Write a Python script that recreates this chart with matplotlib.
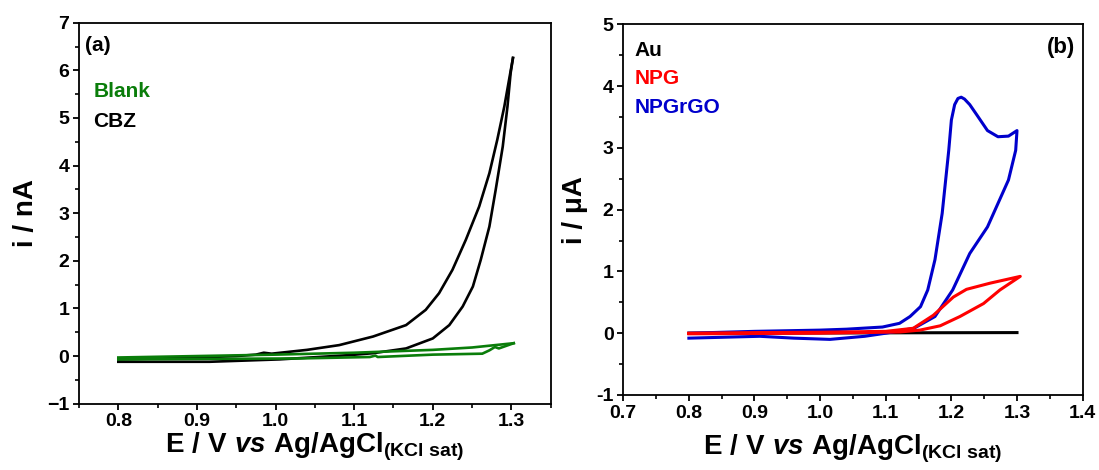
import matplotlib
matplotlib.use("Agg")
import matplotlib.pyplot as plt
from matplotlib.ticker import MultipleLocator, FuncFormatter

# panel (a): CBZ vs blank, current in nA
cbz_fwd_e = [0.80, 0.85, 0.90, 0.95, 0.975, 0.985, 0.995, 1.04, 1.081, 1.124, 1.166, 1.191,
             1.208, 1.225, 1.242, 1.259, 1.272, 1.282, 1.291, 1.297, 1.302]
cbz_fwd_i = [-0.07, -0.05, -0.03, 0.0, 0.03, 0.07, 0.05, 0.13, 0.23, 0.41, 0.65, 0.97,
             1.32, 1.81, 2.44, 3.14, 3.84, 4.54, 5.24, 5.80, 6.26]
cbz_rev_e = [1.302, 1.299, 1.295, 1.289, 1.280, 1.272, 1.261, 1.251, 1.238, 1.221, 1.200,
             1.166, 1.124, 1.094, 1.005, 0.916, 0.80]
cbz_rev_i = [6.26, 5.94, 5.24, 4.40, 3.49, 2.72, 2.02, 1.46, 1.04, 0.65, 0.37,
             0.16, 0.06, 0.02, -0.07, -0.12, -0.12]

blank_fwd_e = [0.80, 0.90, 1.00, 1.10, 1.20, 1.25, 1.303]
blank_fwd_i = [-0.03, 0.0, 0.03, 0.07, 0.13, 0.18, 0.27]
blank_rev_e = [1.303, 1.284, 1.279, 1.272, 1.263, 1.20, 1.13, 1.127, 1.12, 1.03, 0.90, 0.80]
blank_rev_i = [0.27, 0.16, 0.19, 0.12, 0.05, 0.03, -0.02, 0.01, -0.02, -0.05, -0.06, -0.07]

# panel (b): electrodes, current in uA
au_e = [0.80, 1.30]
au_i = [0.0, 0.01]

npg_e = [0.80, 0.90, 1.00, 1.10, 1.142, 1.1725, 1.203, 1.223, 1.259, 1.305,
         1.274, 1.249, 1.213, 1.183, 1.152, 1.122, 1.00, 0.80]
npg_i = [0.0, 0.01, 0.015, 0.03, 0.08, 0.29, 0.585, 0.71, 0.81, 0.92,
         0.70, 0.48, 0.27, 0.12, 0.05, 0.02, 0.0, -0.01]

rgo_e = [0.80, 0.90, 1.00, 1.04, 1.095, 1.121, 1.137, 1.153, 1.164, 1.175, 1.186, 1.196,
         1.200, 1.205, 1.210, 1.215, 1.220, 1.228, 1.239, 1.255, 1.271, 1.287, 1.300,
         1.298, 1.287, 1.271, 1.255, 1.228, 1.202, 1.175, 1.143, 1.10, 1.068, 1.015,
         0.96, 0.908, 0.80]
rgo_i = [0.0, 0.03, 0.05, 0.065, 0.10, 0.16, 0.27, 0.43, 0.70, 1.19, 1.94, 2.96,
         3.45, 3.70, 3.80, 3.82, 3.79, 3.70, 3.53, 3.28, 3.18, 3.19, 3.28,
         2.96, 2.48, 2.10, 1.72, 1.29, 0.70, 0.27, 0.08, 0.0, -0.05, -0.10,
         -0.08, -0.05, -0.08]

plt.rcParams["font.family"] = ["Liberation Sans", "DejaVu Sans"]
plt.rcParams["font.weight"] = "bold"
plt.rcParams["mathtext.fontset"] = "custom"
plt.rcParams["mathtext.rm"] = "Liberation Sans:bold"
plt.rcParams["mathtext.it"] = "Liberation Sans:italic:bold"
plt.rcParams["mathtext.bf"] = "Liberation Sans:bold"

GREEN = "#0a7d0a"
RED = "#ff0000"
BLUE = "#0000cc"

XLABEL = r"$\mathrm{E\ /\ V\ }\mathit{vs}\mathrm{\ Ag/AgCl_{(KCl\ sat)}}$"

fig = plt.figure(figsize=(10.99, 4.70), dpi=100)
ax_a = fig.add_axes([0.0719, 0.1411, 0.4292, 0.8106])
ax_b = fig.add_axes([0.5671, 0.1596, 0.4180, 0.7887])


def style_axis(ax):
    for sp in ax.spines.values():
        sp.set_linewidth(1.3)
    ax.tick_params(which="major", direction="out", length=4, width=1.3,
                   labelsize=14, pad=3, top=False, right=False)
    ax.tick_params(which="minor", direction="out", length=3, width=1.2,
                   top=False, right=False)
    for lab in ax.get_xticklabels() + ax.get_yticklabels():
        lab.set_fontweight("bold")


# (a)
ax_a.plot(cbz_fwd_e, cbz_fwd_i, color="black", lw=1.9, solid_joinstyle="round")
ax_a.plot(cbz_rev_e, cbz_rev_i, color="black", lw=1.9, solid_joinstyle="round")
ax_a.plot(blank_fwd_e, blank_fwd_i, color=GREEN, lw=1.9, solid_joinstyle="round")
ax_a.plot(blank_rev_e, blank_rev_i, color=GREEN, lw=1.9, solid_joinstyle="round")
ax_a.set_xlim(0.75, 1.35)
ax_a.set_ylim(-1, 7)
ax_a.xaxis.set_major_locator(MultipleLocator(0.1))
ax_a.xaxis.set_minor_locator(MultipleLocator(0.05))
ax_a.yaxis.set_major_locator(MultipleLocator(1))
ax_a.yaxis.set_minor_locator(MultipleLocator(0.5))
ax_a.xaxis.set_major_formatter(FuncFormatter(lambda v, p: f"{v:.1f}"))
ax_a.yaxis.set_major_formatter(FuncFormatter(lambda v, p: f"{v:.0f}".replace("-", "\u2212")))
style_axis(ax_a)
ax_a.set_xlabel(XLABEL, fontsize=20, labelpad=0)
ax_a.set_ylabel("i / nA", fontsize=20, fontweight="bold", labelpad=6)
ax_a.text(0.013, 0.965, "(a)", transform=ax_a.transAxes, fontsize=15,
          fontweight="bold", va="top", ha="left")
ax_a.text(0.030, 0.806, "Blank", transform=ax_a.transAxes, fontsize=15,
          fontweight="bold", color=GREEN, va="baseline")
ax_a.text(0.030, 0.727, "CBZ", transform=ax_a.transAxes, fontsize=15,
          fontweight="bold", color="black", va="baseline")

# (b)
ax_b.plot(au_e, au_i, color="black", lw=2.2)
ax_b.plot(rgo_e, rgo_i, color=BLUE, lw=2.2, solid_joinstyle="round")
ax_b.plot(npg_e, npg_i, color=RED, lw=2.2, solid_joinstyle="round")
ax_b.set_xlim(0.7, 1.4)
ax_b.set_ylim(-1, 5)
ax_b.xaxis.set_major_locator(MultipleLocator(0.1))
ax_b.xaxis.set_minor_locator(MultipleLocator(0.05))
ax_b.yaxis.set_major_locator(MultipleLocator(1))
ax_b.yaxis.set_minor_locator(MultipleLocator(0.5))
ax_b.xaxis.set_major_formatter(FuncFormatter(lambda v, p: f"{v:.1f}"))
ax_b.yaxis.set_major_formatter(FuncFormatter(lambda v, p: f"{v:.0f}"))
style_axis(ax_b)
ax_b.set_xlabel(XLABEL, fontsize=20, labelpad=8)
ax_b.set_ylabel("i / \u03bcA", fontsize=20, fontweight="bold", labelpad=6)
ax_b.text(0.983, 0.965, "(b)", transform=ax_b.transAxes, fontsize=16,
          fontweight="bold", va="top", ha="right")
ax_b.text(0.0255, 0.9145, "Au", transform=ax_b.transAxes, fontsize=15,
          fontweight="bold", color="black", va="baseline")
ax_b.text(0.0255, 0.838, "NPG", transform=ax_b.transAxes, fontsize=15,
          fontweight="bold", color=RED, va="baseline")
ax_b.text(0.0255, 0.7615, "NPGrGO", transform=ax_b.transAxes, fontsize=15,
          fontweight="bold", color=BLUE, va="baseline")

fig.savefig("out.png", dpi=100)
